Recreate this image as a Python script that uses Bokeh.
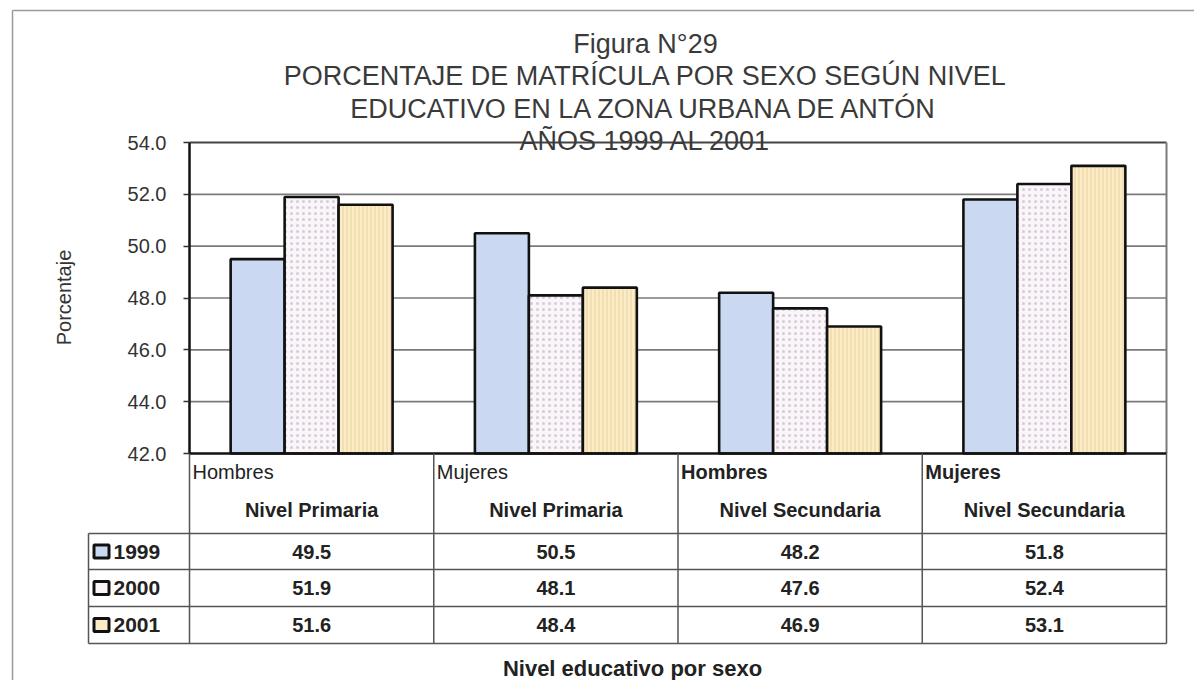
from bokeh.plotting import figure
from bokeh.models import Range1d, LinearAxis, FixedTicker, PrintfTickFormatter
from bokeh.core.properties import value
from bokeh.embed import file_html
from bokeh.resources import INLINE
import math

# ---------------- data ----------------
sexes = ["Hombres", "Mujeres", "Hombres", "Mujeres"]
levels = ["Nivel Primaria", "Nivel Primaria", "Nivel Secundaria", "Nivel Secundaria"]
years = ["1999", "2000", "2001"]
v1999 = [49.5, 50.5, 48.2, 51.8]
v2000 = [51.9, 48.1, 47.6, 52.4]
v2001 = [51.6, 48.4, 46.9, 53.1]
y_ticks = [42.0, 44.0, 46.0, 48.0, 50.0, 52.0, 54.0]
title_lines = ["Figura N°29",
               "PORCENTAJE DE MATRÍCULA POR SEXO SEGÚN NIVEL",
               "EDUCATIVO EN LA ZONA URBANA DE ANTÓN",
               "AÑOS 1999 AL 2001"]
y_title = "Porcentaje"
x_title = "Nivel educativo por sexo"

series = [v1999, v2000, v2001]
fills = ["#cbd8f1", "#f9f5f9", "#f9ecc6"]
hatches = [" ", "dot", "vertical_line"]
hatch_colors = ["#b8c8ea", "#d9cbd9", "#ecd39c"]

# ---------------- geometry (picture pixels -> data) ----------------
W, H = 1194, 680
XL, XU = 189.0, 244.25          # picture x of category 0 edge, px per category
YT, YU = 142.0, 311.0 / 12.0     # picture y of 54.0, px per percentage unit
Y0, Y1 = 42.0, 54.0

def dx(px):
    return (px - XL) / XU

def dy(py):
    return Y1 - (py - YT) / YU

FONT = value("Liberation Sans")

p = figure(width=W, height=H, output_backend="svg", toolbar_location=None,
           x_range=Range1d(dx(0), dx(W)), y_range=Range1d(dy(H), dy(0)),
           x_axis_location=None, y_axis_location=None, min_border=0)
p.outline_line_color = None
p.grid.visible = False
p.background_fill_color = "white"

ncat = len(sexes)
centers = [i + 0.5 for i in range(ncat)]
bw = 0.221

# gridlines
grid_vals = [t for t in y_ticks if Y0 < t < Y1]
p.segment(x0=[0] * len(grid_vals), x1=[ncat] * len(grid_vals), y0=grid_vals, y1=grid_vals,
          line_color="#7a7a7a", line_width=1.6)
# plot frame top and right
p.segment(x0=[0], x1=[ncat], y0=[Y1], y1=[Y1], line_color="#444444", line_width=2)
p.segment(x0=[ncat], x1=[ncat], y0=[Y0], y1=[Y1], line_color="#7a7a7a", line_width=2)

# bars
for j, vals in enumerate(series):
    xs = [c + (j - 1) * bw for c in centers]
    p.vbar(x=xs, top=vals, bottom=Y0, width=bw, fill_color=fills[j],
           line_color="#111111", line_width=2.6,
           hatch_pattern=hatches[j], hatch_color=hatch_colors[j],
           hatch_scale=6 if j == 1 else 4, hatch_weight=1)

# bottom line of plot
p.segment(x0=[0], x1=[ncat], y0=[Y0], y1=[Y0], line_color="#111111", line_width=2.5)

# y axis (real axis placed at the frame's left edge)
yax = LinearAxis(fixed_location=0, bounds=(Y0, Y1),
                 ticker=FixedTicker(ticks=y_ticks),
                 formatter=PrintfTickFormatter(format="%.1f"))
yax.axis_line_color = "#111111"
yax.axis_line_width = 2.5
yax.major_tick_out = 6
yax.major_tick_in = 0
yax.minor_tick_line_color = None
yax.major_tick_line_color = "#333333"
yax.major_tick_line_width = 1.5
yax.major_label_standoff = 17
yax.major_label_text_font = "Liberation Sans"
yax.major_label_text_font_size = "20px"
yax.major_label_text_color = "#333333"
p.add_layout(yax, "left")

# ---------------- table ----------------
row_lines = [533, 569, 606, 643]
row_centers = [551, 587.5, 624.5]
tcol = "#555555"
p.segment(x0=[dx(88)] * len(row_lines), x1=[ncat] * len(row_lines),
          y0=[dy(r) for r in row_lines], y1=[dy(r) for r in row_lines],
          line_color=tcol, line_width=1.5)
edges = list(range(ncat + 1))
p.segment(x0=edges, x1=edges, y0=[Y0] * len(edges), y1=[dy(643)] * len(edges),
          line_color=tcol, line_width=1.5)
p.segment(x0=[dx(88)], x1=[dx(88)], y0=[dy(533)], y1=[dy(643)], line_color=tcol, line_width=1.5)

# header texts
p.text(x=[i + 3 / XU for i in range(ncat)], y=[dy(471)] * ncat, text=sexes,
       text_font=FONT, text_font_size="20px", text_color="#222222",
       text_align="left", text_baseline="middle",
       text_font_style=["normal", "normal", "bold", "bold"])
p.text(x=centers, y=[dy(509)] * ncat, text=levels,
       text_font=FONT, text_font_size="20px", text_font_style="bold", text_color="#222222",
       text_align="center", text_baseline="middle")

# values
for j, vals in enumerate(series):
    p.text(x=centers, y=[dy(row_centers[j])] * ncat, text=["%.1f" % v for v in vals],
           text_font=FONT, text_font_size="20px", text_font_style="bold", text_color="#222222",
           text_align="center", text_baseline="middle")

# legend keys + year labels
p.rect(x=[dx(101)] * 3, y=[dy(r) for r in row_centers], width=15, height=13,
       width_units="screen", height_units="screen",
       fill_color=fills, line_color="#111111", line_width=3)
p.text(x=[dx(113)] * 3, y=[dy(r) for r in row_centers], text=years,
       text_font=FONT, text_font_size="21px", text_font_style="bold", text_color="#222222",
       text_align="left", text_baseline="middle")

# ---------------- titles ----------------
baselines = [43, 75, 108, 140]
p.text(x=[dx(645)] * 4, y=[dy(b) for b in baselines], text=title_lines,
       text_font=FONT, text_font_size="27px", text_color="#3a3a3a",
       text_align="center", text_baseline="alphabetic")
p.text(x=[dx(63)], y=[dy(297)], text=[y_title], angle=math.pi / 2,
       text_font=FONT, text_font_size="20px", text_color="#333333",
       text_align="center", text_baseline="middle")
p.text(x=[dx(632)], y=[dy(668)], text=[x_title],
       text_font=FONT, text_font_size="22px", text_font_style="bold", text_color="#222222",
       text_align="center", text_baseline="middle")

# outer frame lines (left and top)
p.segment(x0=[dx(12), dx(12)], x1=[dx(12), dx(1194)], y0=[dy(10), dy(10)], y1=[dy(688), dy(10)],
          line_color="#9a9a9a", line_width=1.5)

open("out.html", "w").write(file_html(p, INLINE))
